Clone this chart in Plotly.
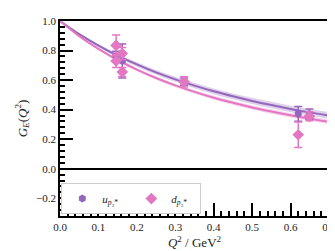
import plotly.graph_objects as go

# Fit curves
q2_curve = [0.0, 0.05, 0.1, 0.15, 0.2, 0.25, 0.3, 0.35, 0.4, 0.45, 0.5, 0.55, 0.6, 0.65, 0.7]
u_curve = [1.0, 0.911, 0.834, 0.766, 0.706, 0.652, 0.605, 0.5625, 0.524, 0.49, 0.459, 0.431, 0.405, 0.3815, 0.36]
u_band = [0.0, 0.006, 0.01, 0.013, 0.015, 0.016, 0.017, 0.018, 0.019, 0.02, 0.021, 0.022, 0.022, 0.023, 0.023]
d_curve = [1.0, 0.898, 0.811, 0.736, 0.671, 0.614, 0.564, 0.520, 0.481, 0.446, 0.415, 0.387, 0.362, 0.339, 0.318]
d_band = [0.0, 0.004, 0.007, 0.009, 0.01, 0.011, 0.012, 0.013, 0.013, 0.014, 0.014, 0.015, 0.015, 0.015, 0.015]

# Lattice data points
u_q2 = [0.146, 0.162, 0.323, 0.62, 0.649]
u_val = [0.765, 0.73, 0.59, 0.372, 0.37]
u_err = [0.03, 0.115, 0.025, 0.05, 0.035]

d_q2 = [0.146, 0.146, 0.162, 0.162, 0.323, 0.62, 0.649]
d_val = [0.835, 0.73, 0.78, 0.655, 0.588, 0.23, 0.355]
d_err = [0.07, 0.045, 0.04, 0.03, 0.035, 0.087, 0.03]

PURPLE = "#9467bd"
PINK = "#e377c2"
FONT = "Liberation Serif"

fig = go.Figure()

def band(center, half, color_rgba):
    lo = [c - h for c, h in zip(center, half)]
    hi = [c + h for c, h in zip(center, half)]
    fig.add_trace(go.Scatter(x=q2_curve, y=lo, mode="lines", line=dict(width=0, shape="spline"),
                             showlegend=False, hoverinfo="skip"))
    fig.add_trace(go.Scatter(x=q2_curve, y=hi, mode="lines", line=dict(width=0, shape="spline"),
                             fill="tonexty", fillcolor=color_rgba, showlegend=False, hoverinfo="skip"))

band(u_curve, u_band, "rgba(148,103,189,0.3)")
band(d_curve, d_band, "rgba(227,119,194,0.3)")

fig.add_trace(go.Scatter(x=q2_curve, y=u_curve, mode="lines", line=dict(color=PURPLE, width=2, shape="spline"),
                         showlegend=False))
fig.add_trace(go.Scatter(x=q2_curve, y=d_curve, mode="lines", line=dict(color=PINK, width=2, shape="spline"),
                         showlegend=False))

fig.add_trace(go.Scatter(x=u_q2, y=u_val, mode="markers",
                         error_y=dict(type="data", array=u_err, color=PURPLE, thickness=1.5, width=4),
                         marker=dict(symbol="hexagon", size=8, color=PURPLE),
                         name="<i>u</i><sub><i>p</i>₂*</sub>"))
fig.add_trace(go.Scatter(x=d_q2, y=d_val, mode="markers",
                         error_y=dict(type="data", array=d_err, color=PINK, thickness=1.5, width=4),
                         marker=dict(symbol="diamond", size=9, color=PINK),
                         name="<i>d</i><sub><i>p</i>₂*</sub>"))

axis_common = dict(
    showline=True, linecolor="black", linewidth=1.5, mirror=True,
    ticks="inside", ticklen=13, tickwidth=2, tickcolor="black",
    showgrid=False,
    tickfont=dict(family=FONT, size=11, color="#222"),
)

fig.update_xaxes(range=[0, 0.7], dtick=0.1, tick0=0, tickformat=".1f",
                 minor=dict(ticks="inside", ticklen=5, tickwidth=1.5, tickcolor="black", dtick=0.02, tick0=0),
                 title=dict(text="<i>Q</i><sup>2</sup> / GeV<sup>2</sup>", font=dict(family=FONT, size=13, color="#222"),
                            standoff=6),
                 zeroline=False, **axis_common)
fig.update_yaxes(range=[-0.32, 1.0], dtick=0.2, tick0=0, tickformat=".1f",
                 minor=dict(ticks="inside", ticklen=5, tickwidth=1.5, tickcolor="black", dtick=0.04, tick0=0),
                 title=dict(text="<i>G</i><sub><i>E</i></sub>(<i>Q</i><sup>2</sup>)", font=dict(family=FONT, size=13, color="#222"),
                            standoff=6),
                 zeroline=True, zerolinecolor="black", zerolinewidth=2, **axis_common)

fig.update_layout(
    width=335, height=251,
    margin=dict(l=52, r=11, t=7, b=43),
    plot_bgcolor="white", paper_bgcolor="white",
    showlegend=True,
    legend=dict(orientation="h", x=0.005, y=0.01, xanchor="left", yanchor="bottom",
                traceorder="normal",
                bgcolor="white", bordercolor="#cccccc", borderwidth=1,
                font=dict(family=FONT, size=11, color="#222"),
                itemwidth=30,
                entrywidth=24, entrywidthmode="pixels"),
    font=dict(family=FONT),
)

fig.write_html("out.html")
